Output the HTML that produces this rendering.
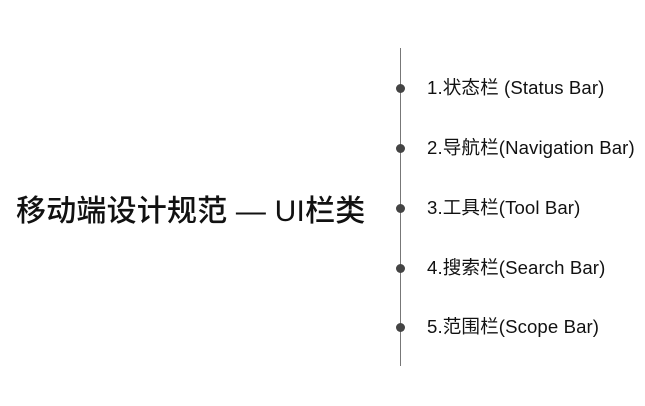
<!DOCTYPE html>
<html><head><meta charset="utf-8"><style>
body{margin:0;width:645px;height:406px;background:#fff;position:relative;overflow:hidden;font-family:"Liberation Sans","Noto Sans CJK SC",sans-serif;color:#111}
.t{position:absolute;left:16px;top:192px;font-size:30px;line-height:40px;white-space:nowrap;font-weight:500;letter-spacing:0.2px}
.line{position:absolute;left:400px;top:48px;width:1px;height:318px;background:#777}
.d{position:absolute;left:396px;width:9px;height:9px;border-radius:50%;background:#444}
.i{position:absolute;left:427px;font-size:18.6px;line-height:20px;white-space:nowrap;letter-spacing:0.1px}
</style></head><body>
<div class="t">移动端设计规范 — UI栏类</div>
<div class="line"></div>
<div class="d" style="top:84px"></div><div class="i" style="top:78px">1.状态栏 (Status Bar)</div>
<div class="d" style="top:144px"></div><div class="i" style="top:138px">2.导航栏(Navigation Bar)</div>
<div class="d" style="top:204px"></div><div class="i" style="top:198px">3.工具栏(Tool Bar)</div>
<div class="d" style="top:264px"></div><div class="i" style="top:258px">4.搜索栏(Search Bar)</div>
<div class="d" style="top:323px"></div><div class="i" style="top:317px">5.范围栏(Scope Bar)</div>
</body></html>
